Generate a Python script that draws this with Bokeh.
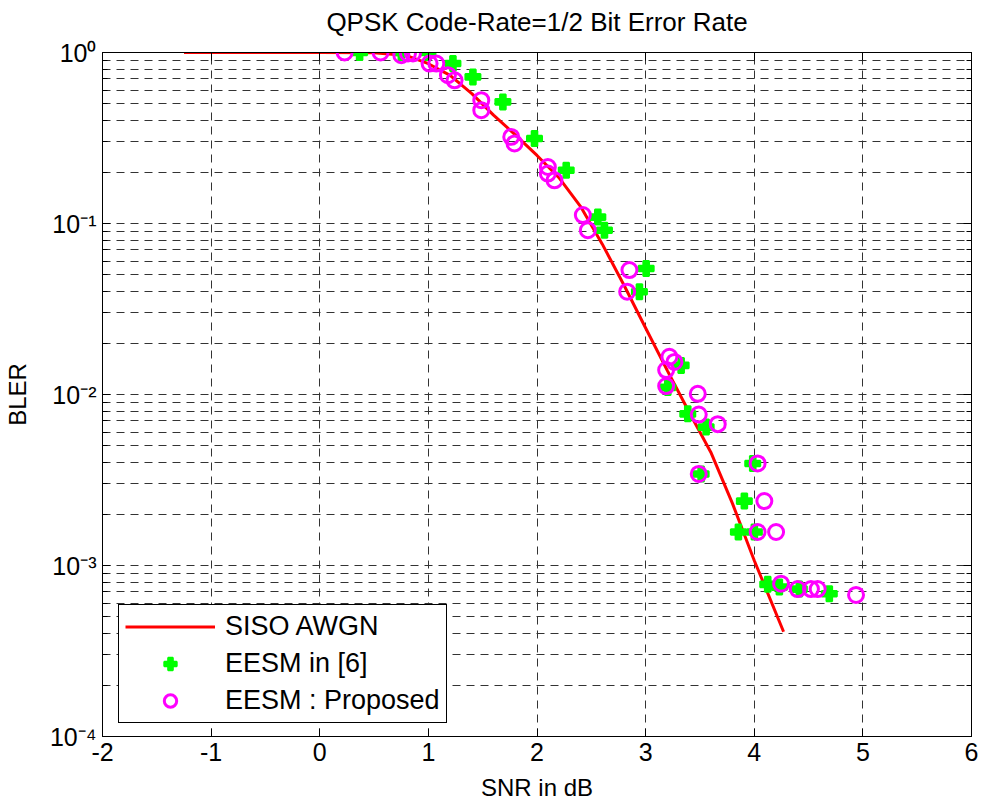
from bokeh.plotting import figure
from bokeh.models import (LogAxis, LinearAxis, FixedTicker, Legend, LegendItem,
                          CustomJSTickFormatter, Range1d)
from bokeh.embed import file_html
from bokeh.resources import INLINE

# ---------------- data ----------------
title_text = "QPSK Code-Rate=1/2 Bit Error Rate"
x_label = "SNR in dB"
y_label = "BLER"

x_ticks = [-2, -1, 0, 1, 2, 3, 4, 5, 6]
x_tick_labels = ["-2", "-1", "0", "1", "2", "3", "4", "5", "6"]
y_exponents = [0, -1, -2, -3, -4]
y_tick_labels = ["10\u2070", "10\u207b\u00b9", "10\u207b\u00b2", "10\u207b\u00b3", "10\u207b\u2074"]

# SISO AWGN reference curve
awgn_snr = [-1.25, 0.0, 0.5, 0.8, 1.0, 1.2, 1.4, 1.6, 1.8, 2.0, 2.2, 2.4, 2.6,
            2.8, 3.0, 3.2, 3.4, 3.6, 3.8, 4.0, 4.27]
awgn_bler = [1.0, 1.0, 0.995, 0.96, 0.86, 0.735, 0.575, 0.43, 0.33, 0.25, 0.186,
             0.126, 0.076, 0.0437, 0.0245, 0.0138, 0.0079, 0.0046, 0.0023,
             0.00107, 0.00041]

# EESM in [6]
eesm6_snr = [0.367, 0.751, 0.996, 1.226, 1.410, 1.686, 1.977, 2.269, 2.560,
             2.621, 3.005, 2.943, 3.327, 3.204, 3.388, 3.557, 3.511, 3.986,
             3.909, 3.854, 4.001, 4.124, 4.231, 4.415, 4.691]
eesm6_bler = [1.0, 1.0, 1.0, 0.862, 0.720, 0.514, 0.314, 0.205, 0.109,
              0.0913, 0.0546, 0.0399, 0.0148, 0.0110, 0.00771, 0.00645,
              0.00343, 0.00395, 0.00238, 0.00157, 0.00157, 0.000776,
              0.000748, 0.000728, 0.000684]

# EESM : Proposed
prop_snr = [0.229, 0.560, 0.751, 0.812, 0.858, 1.011, 1.073, 1.180, 1.241,
            1.487, 1.487, 1.763, 1.793, 2.100, 2.100, 2.161, 2.422, 2.468,
            2.851, 2.830, 3.219, 3.265, 3.189, 3.189, 3.480, 3.489, 3.664,
            3.489, 4.031, 4.093, 4.031, 4.201, 4.247, 4.400, 4.522, 4.584,
            4.937]
prop_bler = [1.0, 1.0, 0.964, 0.987, 0.987, 0.862, 0.862, 0.737, 0.688,
             0.526, 0.460, 0.321, 0.294, 0.214, 0.196, 0.179, 0.112, 0.0913,
             0.0534, 0.0399, 0.0166, 0.0155, 0.0139, 0.0112, 0.0101, 0.00763,
             0.00671, 0.00343, 0.00395, 0.00238, 0.00157, 0.00157, 0.000783,
             0.000728, 0.000728, 0.000728, 0.000673]

FONT = "Liberation Sans"

y_major = [10.0 ** k for k in y_exponents]
y_minor = [m * 10.0 ** k for k in range(min(y_exponents), max(y_exponents)) for m in range(2, 10)]

p = figure(width=984, height=810, x_range=Range1d(-2, 6), y_range=Range1d(1e-4, 1),
           y_axis_type="log", output_backend="svg", toolbar_location=None,
           min_border_left=101, min_border_right=13, min_border_top=52,
           min_border_bottom=74, background_fill_color="white",
           border_fill_color="white")

p.outline_line_color = "black"
p.outline_line_width = 1

grid_dash = "8 6"
grid_col = "#333333"

xa = p.xaxis[0]
xa.ticker = FixedTicker(ticks=x_ticks)
xa.major_label_overrides = {t: s for t, s in zip(x_ticks, x_tick_labels)}
xa.major_tick_in = 8
xa.major_tick_out = 0
xa.minor_tick_line_color = None
xa.major_label_standoff = 6
xa.major_label_text_font = FONT
xa.major_label_text_font_size = "25px"
xa.major_label_text_color = "black"
xa.axis_label = x_label
xa.axis_label_text_font = FONT
xa.axis_label_text_font_size = "24px"
xa.axis_label_text_font_style = "normal"
xa.axis_label_text_color = "black"
xa.axis_label_standoff = 10
xa.axis_line_color = "black"
xa.major_tick_line_color = "black"

ya = p.yaxis[0]
ya.ticker = FixedTicker(ticks=y_major, minor_ticks=y_minor)
ya.major_label_overrides = {t: s for t, s in zip(y_major, y_tick_labels)}
ya.major_tick_in = 8
ya.major_tick_out = 0
ya.minor_tick_in = 5
ya.minor_tick_out = 0
ya.major_label_standoff = 6
ya.major_label_text_font = FONT
ya.major_label_text_font_size = "25px"
ya.major_label_text_color = "black"
ya.axis_label = y_label
ya.axis_label_text_font = FONT
ya.axis_label_text_font_size = "24px"
ya.axis_label_text_font_style = "normal"
ya.axis_label_text_color = "black"
ya.axis_label_standoff = 16
ya.axis_line_color = "black"
ya.major_tick_line_color = "black"
ya.minor_tick_line_color = "black"

# top axis carries the chart title as its label
top = LinearAxis(ticker=FixedTicker(ticks=x_ticks),
                 formatter=CustomJSTickFormatter(code="return ''"),
                 major_tick_in=8, major_tick_out=0, minor_tick_line_color=None,
                 major_label_text_font_size="0px", major_label_standoff=0,
                 axis_line_color="black", major_tick_line_color="black",
                 axis_label=title_text, axis_label_text_font=FONT,
                 axis_label_text_font_size="26px", axis_label_text_font_style="normal",
                 axis_label_text_color="black", axis_label_standoff=16)
p.add_layout(top, "above")

right = LogAxis(ticker=FixedTicker(ticks=y_major, minor_ticks=y_minor),
                formatter=CustomJSTickFormatter(code="return ''"),
                major_tick_in=8, major_tick_out=0, minor_tick_in=5, minor_tick_out=0,
                major_label_text_font_size="0px", major_label_standoff=0,
                axis_line_color="black", major_tick_line_color="black",
                minor_tick_line_color="black")
p.add_layout(right, "right")

for g in (p.xgrid[0], p.ygrid[0]):
    g.grid_line_color = grid_col
    g.grid_line_dash = grid_dash
    g.grid_line_width = 1
p.xgrid[0].ticker = FixedTicker(ticks=x_ticks)
p.ygrid[0].ticker = FixedTicker(ticks=y_major, minor_ticks=y_minor)
p.ygrid[0].minor_grid_line_color = grid_col
p.ygrid[0].minor_grid_line_dash = grid_dash
p.ygrid[0].minor_grid_line_width = 1

r_awgn = p.line(awgn_snr, awgn_bler, line_color="#FF0000", line_width=3)
r_e6 = p.scatter(eesm6_snr, eesm6_bler, marker="plus", size=15,
                 fill_color="#00FF00", line_color="#00FF00", line_width=2)
r_prop = p.scatter(prop_snr, prop_bler, marker="circle", size=15, fill_color=None,
                   line_color="#FF00FF", line_width=3)

legend = Legend(items=[LegendItem(label="SISO AWGN", renderers=[r_awgn]),
                       LegendItem(label="EESM in [6]", renderers=[r_e6]),
                       LegendItem(label="EESM : Proposed", renderers=[r_prop])],
                location=(16, 13), label_text_font=FONT, label_text_font_size="27px",
                label_text_color="black",
                glyph_width=90, glyph_height=31, label_height=31, spacing=6,
                padding=6, label_standoff=10, border_line_color="black",
                border_line_width=1, border_line_alpha=1.0,
                background_fill_color="white",
                background_fill_alpha=1.0, margin=0)
p.add_layout(legend)

open("out.html", "w").write(file_html(p, INLINE))
